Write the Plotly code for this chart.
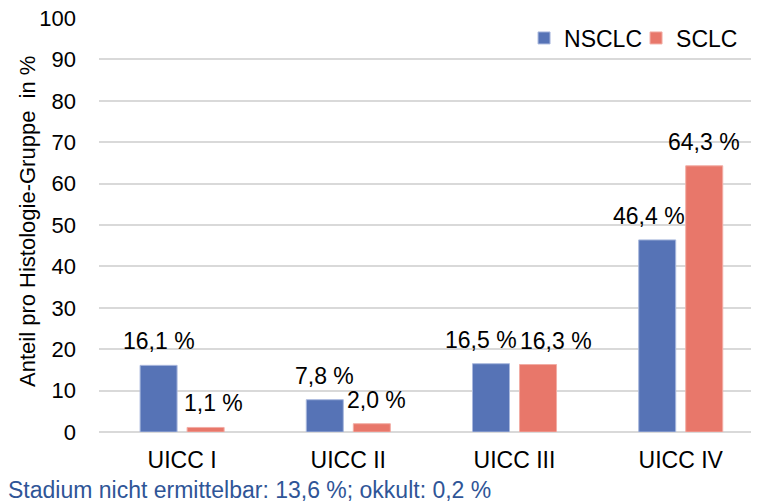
import plotly.graph_objects as go

categories = ["UICC I", "UICC II", "UICC III", "UICC IV"]
nsclc = [16.1, 7.8, 16.5, 46.4]
sclc = [1.1, 2.0, 16.3, 64.3]
nsclc_labels = ["16,1 %", "7,8 %", "16,5 %", "46,4 %"]
sclc_labels = ["1,1 %", "2,0 %", "16,3 %", "64,3 %"]
y_ticks = [0, 10, 20, 30, 40, 50, 60, 70, 80, 90, 100]

FONT = "Liberation Sans, Arial, sans-serif"
BLUE = "#5673B6"
RED = "#E8776A"
TXT = 23

# the page body has an 8 px margin, so the figure is 8 px smaller each way
W, H = 751, 496
L, T, B = 91, 10, 72
PW, PH = W - L, H - T - B


def px_x(p):  # figure pixel -> paper x
    return (p - L) / PW


def px_y(p):  # figure pixel -> paper y
    return (T + PH - p) / PH


# label nudges (px) to mimic the manual label placement of the original
nsclc_nudge = [0, 0, -10, -8]
sclc_nudge = [8, 5, 18, 0]

fig = go.Figure()
fig.add_trace(go.Bar(name="NSCLC", x=categories, y=nsclc,
                     marker=dict(color=BLUE, line=dict(color="#A9B8DD", width=1))))
fig.add_trace(go.Bar(name="SCLC", x=categories, y=sclc,
                     marker=dict(color=RED, line=dict(color="#F2ADA5", width=1))))

for i, c in enumerate(categories):
    fig.add_annotation(x=c, y=nsclc[i], text=nsclc_labels[i], showarrow=False,
                       xshift=-23.5 + nsclc_nudge[i], yanchor="bottom", yshift=9,
                       font=dict(size=TXT, color="#000"))
    fig.add_annotation(x=c, y=sclc[i], text=sclc_labels[i], showarrow=False,
                       xshift=23.5 + sclc_nudge[i], yanchor="bottom", yshift=9,
                       font=dict(size=TXT, color="#000"))

# y-axis title
fig.add_annotation(xref="paper", yref="paper", x=px_x(19), y=px_y(214), xanchor="center",
                   yanchor="middle", textangle=-90, showarrow=False,
                   text="Anteil pro Histologie-Gruppe\u00a0 in %", font=dict(size=22, color="#000"))

# footnote
fig.add_annotation(xref="paper", yref="paper", x=px_x(-2), y=px_y(482),
                   xanchor="left", yanchor="middle",
                   text="Stadium nicht ermittelbar: 13,6 %; okkult: 0,2 %", showarrow=False,
                   font=dict(size=TXT, color="#2F5597"))

fig.update_layout(
    width=W, height=H,
    margin=dict(l=L, r=0, t=T, b=B, pad=0, autoexpand=False),
    paper_bgcolor="white", plot_bgcolor="white",
    font=dict(family=FONT, size=TXT, color="#000"),
    barmode="group", bargap=0.434, bargroupgap=0.213,
    showlegend=True,
    legend=dict(orientation="h", x=0.644, xanchor="left", y=px_y(30), yanchor="middle",
                font=dict(size=TXT), tracegroupgap=0, entrywidth=67, entrywidthmode="pixels",
                bgcolor="rgba(0,0,0,0)"),
    xaxis=dict(range=[-0.5, 3.471], showgrid=False, showline=False, ticks="", ticklabelstandoff=12,
               tickfont=dict(size=TXT)),
    yaxis=dict(range=[0, 100], tickvals=y_ticks, showgrid=True, gridcolor="#D9D9D9", gridwidth=1.5,
               zeroline=True, zerolinecolor="#D9D9D9", zerolinewidth=1.5, ticks="",
               ticklabelstandoff=22, tickfont=dict(size=22), ticklabeloverflow="allow"),
)

fig.write_html("out.html")
